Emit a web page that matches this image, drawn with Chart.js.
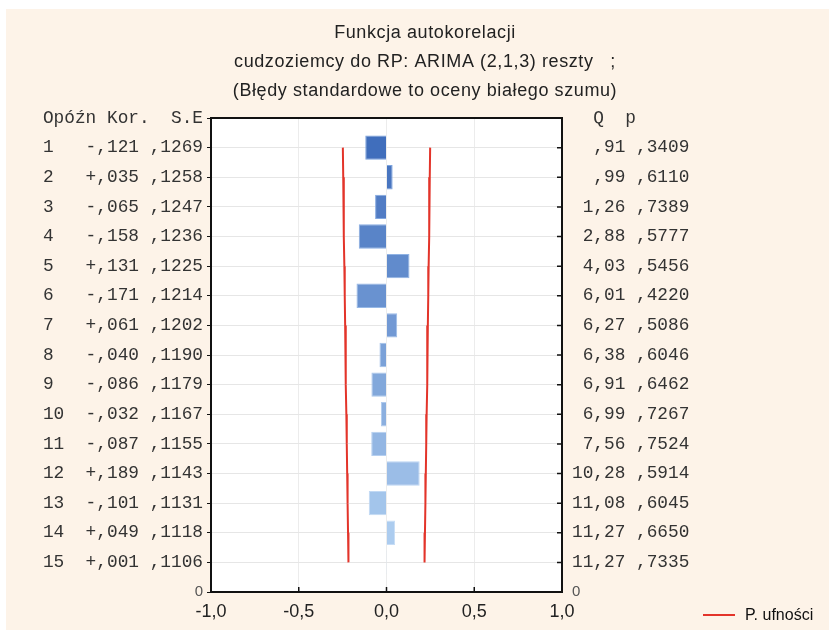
<!DOCTYPE html>
<html>
<head>
<meta charset="utf-8">
<script src="https://cdn.jsdelivr.net/npm/chart.js@4/dist/chart.umd.min.js"></script>
<style>
  html, body { margin: 0; padding: 0; background: #fff; }
  #wrap { position: absolute; left: 6px; top: 9px; width: 823px; height: 621px; background: #fdf3e8; }
</style>
</head>
<body>
<div id="wrap"><canvas id="acf"></canvas></div>
<script>
// autocorrelation of ARIMA(2,1,3) residuals
const lags = [1, 2, 3, 4, 5, 6, 7, 8, 9, 10, 11, 12, 13, 14, 15];
const acf = [-0.121, 0.035, -0.065, -0.158, 0.131, -0.171, 0.061, -0.040, -0.086, -0.032, -0.087, 0.189, -0.101, 0.049, 0.001];
const stdErr = [0.1269, 0.1258, 0.1247, 0.1236, 0.1225, 0.1214, 0.1202, 0.1190, 0.1179, 0.1167, 0.1155, 0.1143, 0.1131, 0.1118, 0.1106];
const qStat = [0.91, 0.99, 1.26, 2.88, 4.03, 6.01, 6.27, 6.38, 6.91, 6.99, 7.56, 10.28, 11.08, 11.27, 11.27];
const pValue = [0.3409, 0.6110, 0.7389, 0.5777, 0.5456, 0.4220, 0.5086, 0.6046, 0.6462, 0.7267, 0.7524, 0.5914, 0.6045, 0.6650, 0.7335];
const Z95 = 1.96;

const titleLines = [
  'Funkcja autokorelacji',
  'cudzoziemcy do RP: ARIMA (2,1,3) reszty   ;',
  '(Błędy standardowe to oceny białego szumu)'
];
const leftHeader = 'Opóźn Kor.  S.E';
const rightHeader = '  Q  p';
const limitLabel = 'P. ufności';

const MONO = '"Liberation Mono", "DejaVu Sans Mono", monospace';
const SANS = '"Liberation Sans", Arial, sans-serif';
const RED = '#e3342a';

// ,1269 / 11,27 / -,121 style numbers
function frac(v, digits) {
  let s = Math.abs(v).toFixed(digits).replace('.', ',');
  if (s.startsWith('0,')) s = s.slice(1);
  return s;
}
function signed(v) {
  return (v < 0 ? '-' : '+') + frac(v, 3);
}

const leftLabels = lags.map((l, i) => String(l).padEnd(4) + signed(acf[i]) + ' ' + frac(stdErr[i], 4));
const rightLabels = lags.map((l, i) => (frac(qStat[i], 2) + ' ' + frac(pValue[i], 4)).padStart(11));
const rowTicks = [0].concat(lags, [16]);

function mix(a, b, t) {
  return 'rgb(' + a.map((c, k) => Math.round(c + (b[k] - c) * t)).join(',') + ')';
}
const barColors = lags.map((l, i) => mix([64, 110, 188], [180, 211, 243], i / (lags.length - 1)));
const barEdges = lags.map((l, i) => mix([120, 160, 220], [205, 226, 248], i / (lags.length - 1)));

function tickFont(c) {
  if (c.tick && c.tick.value === 16) return { family: SANS, size: 15 };
  return { family: MONO, size: 17.8 };
}
function tickColor(c) {
  return c.tick && c.tick.value === 16 ? '#555' : '#333';
}

const decor = {
  id: 'decor',
  beforeDraw(chart) {
    const { ctx, chartArea: a } = chart;
    ctx.save();
    ctx.fillStyle = '#fff';
    ctx.fillRect(a.left, a.top, a.right - a.left, a.bottom - a.top);
    ctx.restore();
  },
  afterDraw(chart) {
    const { ctx, chartArea: a, scales } = chart;
    ctx.save();
    // inner tick marks on the bottom and right edges
    ctx.strokeStyle = '#111';
    ctx.lineWidth = 1.5;
    ctx.beginPath();
    scales.x.ticks.forEach(t => {
      const px = scales.x.getPixelForValue(t.value);
      ctx.moveTo(px, a.bottom);
      ctx.lineTo(px, a.bottom - 5);
    });
    lags.forEach(l => {
      const py = scales.y.getPixelForValue(l);
      ctx.moveTo(a.right, py);
      ctx.lineTo(a.right - 5, py);
    });
    ctx.stroke();

    ctx.lineWidth = 2;
    ctx.strokeRect(a.left, a.top, a.right - a.left, a.bottom - a.top);

    // title
    ctx.fillStyle = '#222';
    ctx.font = '18px ' + SANS;
    ctx.letterSpacing = '0.6px';
    ctx.textAlign = 'center';
    ctx.textBaseline = 'alphabetic';
    titleLines.forEach((line, i) => ctx.fillText(line, 419, 29 + i * 29));

    // legend
    ctx.letterSpacing = '0px';
    ctx.strokeStyle = RED;
    ctx.lineWidth = 2;
    ctx.beginPath();
    ctx.moveTo(697, 606);
    ctx.lineTo(729, 606);
    ctx.stroke();
    ctx.fillStyle = '#111';
    ctx.font = '16px ' + SANS;
    ctx.textAlign = 'left';
    ctx.textBaseline = 'middle';
    ctx.fillText(chart.data.datasets[1].label, 739, 607);
    ctx.restore();
  }
};

new Chart(document.getElementById('acf'), {
  type: 'bar',
  data: {
    datasets: [
      {
        type: 'bar',
        label: 'Kor.',
        data: lags.map((l, i) => ({ x: acf[i], y: l })),
        backgroundColor: barColors,
        borderColor: barEdges,
        borderWidth: 1,
        barPercentage: 0.82,
        categoryPercentage: 1,
        xAxisID: 'x',
        yAxisID: 'y'
      },
      {
        type: 'line',
        label: limitLabel,
        data: lags.map((l, i) => ({ x: -Z95 * stdErr[i], y: l })),
        borderColor: RED,
        borderWidth: 2,
        pointRadius: 0,
        fill: false,
        xAxisID: 'x',
        yAxisID: 'y'
      },
      {
        type: 'line',
        label: limitLabel,
        data: lags.map((l, i) => ({ x: Z95 * stdErr[i], y: l })),
        borderColor: RED,
        borderWidth: 2,
        pointRadius: 0,
        fill: false,
        xAxisID: 'x',
        yAxisID: 'y'
      }
    ]
  },
  options: {
    indexAxis: 'y',
    responsive: true,
    maintainAspectRatio: false,
    animation: false,
    layout: { padding: { top: 109, left: 0, right: 0, bottom: 0 } },
    plugins: {
      legend: { display: false },
      tooltip: { enabled: false }
    },
    scales: {
      x: {
        type: 'linear',
        min: -1,
        max: 1,
        ticks: {
          stepSize: 0.5,
          padding: 9,
          color: '#222',
          font: { family: SANS, size: 18 },
          callback: v => v.toFixed(1).replace('.', ',')
        },
        grid: { color: '#ececec', drawTicks: false },
        border: { display: false },
        afterFit: s => { s.height = 38; }
      },
      y: {
        type: 'linear',
        position: 'left',
        reverse: true,
        offset: false,
        min: 0,
        max: 16,
        afterBuildTicks: s => { s.ticks = rowTicks.map(v => ({ value: v })); },
        ticks: {
          autoSkip: false,
          padding: 4,
          font: tickFont,
          color: tickColor,
          callback: v => v === 0 ? leftHeader : (v === 16 ? '0' : leftLabels[v - 1])
        },
        grid: { color: '#e6e6e6', tickColor: '#111', tickLength: 4, offset: false },
        border: { display: false },
        afterFit: s => { s.width = 205; }
      },
      y2: {
        type: 'linear',
        position: 'right',
        reverse: true,
        offset: false,
        min: 0,
        max: 16,
        afterBuildTicks: s => { s.ticks = rowTicks.map(v => ({ value: v })); },
        ticks: {
          autoSkip: false,
          padding: 10,
          font: tickFont,
          color: tickColor,
          callback: v => v === 0 ? rightHeader : (v === 16 ? '0' : rightLabels[v - 1])
        },
        grid: { display: false, drawTicks: false },
        border: { display: false },
        afterFit: s => { s.width = 267; }
      }
    }
  },
  plugins: [decor]
});
</script>
</body>
</html>
